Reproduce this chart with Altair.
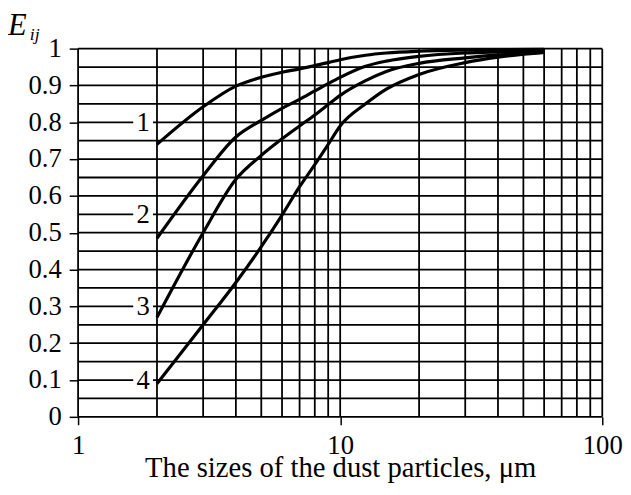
import altair as alt
import pandas as pd

# ---- data ----
sizes = [2, 3, 4, 5, 6, 7, 8, 9, 10, 12.5, 15, 20, 30, 40, 60]
curve1 = [0.74, 0.842, 0.898, 0.922, 0.936, 0.945, 0.954, 0.962, 0.970, 0.982, 0.988, 0.993, 0.996, 0.997, 0.998]
curve2 = [0.485, 0.655, 0.76, 0.805, 0.838, 0.862, 0.885, 0.905, 0.922, 0.952, 0.966, 0.979, 0.988, 0.991, 0.994]
curve3 = [0.27, 0.50, 0.645, 0.71, 0.755, 0.79, 0.82, 0.848, 0.873, 0.913, 0.938, 0.96, 0.975, 0.983, 0.99]
curve4 = [0.09, 0.25, 0.365, 0.462, 0.548, 0.625, 0.685, 0.74, 0.79, 0.85, 0.89, 0.93, 0.962, 0.977, 0.99]

curve_names = ["1", "2", "3", "4"]
label_x = [1.77, 1.77, 1.77, 1.77]
label_y = [0.8, 0.55, 0.3, 0.1]

x_grid = [1, 2, 3, 4, 5, 6, 7, 8, 9, 10, 20, 30, 40, 50, 60, 70, 80, 90, 100]
y_grid = [0, 0.05, 0.1, 0.15, 0.2, 0.25, 0.3, 0.35, 0.4, 0.45, 0.5,
          0.55, 0.6, 0.65, 0.7, 0.75, 0.8, 0.85, 0.9, 0.95, 1.0]
x_ticks = [1, 10, 100]
y_ticks = [0, 0.1, 0.2, 0.3, 0.4, 0.5, 0.6, 0.7, 0.8, 0.9, 1]

x_title = "The sizes of the dust particles, \u03bcm"

FONT = "Liberation Serif"

rows = []
for name, vals in zip(curve_names, [curve1, curve2, curve3, curve4]):
    for s, v in zip(sizes, vals):
        rows.append({"size": s, "E": v, "curve": name})
curves_df = pd.DataFrame(rows)
labels_df = pd.DataFrame({"size": label_x, "E": label_y, "name": curve_names})
xg_df = pd.DataFrame({"size": x_grid})
yg_df = pd.DataFrame({"E": y_grid})

xscale = alt.Scale(type="log", domain=[1, 100], nice=False)
yscale = alt.Scale(domain=[0, 1], nice=False)

x_axis = alt.Axis(values=x_ticks, title=x_title, grid=False, domain=False,
                  tickSize=8, tickWidth=1.5, tickColor="black",
                  labelPadding=8, labelFlush=False, labelOverlap=False,
                  titleFont=FONT, titleFontSize=29, titleFontWeight="normal",
                  titleColor="black", titleBaseline="alphabetic", titleY=60,
                  format="d")
y_axis = alt.Axis(values=y_ticks, title=None, grid=False, domain=False,
                  tickSize=9, tickWidth=1.5, tickColor="black",
                  labelPadding=8, labelOverlap=False,
                  labelExpr="datum.value == 0 ? '0' : datum.value == 1 ? '1' : format(datum.value, '.1f')")

X = alt.X("size:Q", scale=xscale, axis=x_axis)
Y = alt.Y("E:Q", scale=yscale, axis=y_axis)

vgrid = alt.Chart(xg_df).mark_rule(color="black", strokeWidth=1.8).encode(x=X)
hgrid = alt.Chart(yg_df).mark_rule(color="black", strokeWidth=1.8).encode(y=Y)

lines = alt.Chart(curves_df).mark_line(color="black", strokeWidth=3.2, interpolate="monotone").encode(
    x=X, y=Y, detail="curve:N",
)

label_bg = alt.Chart(labels_df).mark_square(color="white", opacity=1, size=400, filled=True).encode(
    x=X, y=Y,
)
label_txt = alt.Chart(labels_df).mark_text(font=FONT, fontSize=27, color="black",
                                            baseline="middle", align="center", dy=1).encode(
    x=X, y=Y, text="name:N",
)

e_txt = alt.Chart(pd.DataFrame({"t": ["E"]})).mark_text(
    font=FONT, fontSize=31, fontStyle="italic", color="black", align="left", baseline="alphabetic"
).encode(x=alt.value(-71), y=alt.value(-14), text="t:N")
ij_txt = alt.Chart(pd.DataFrame({"t": ["ij"]})).mark_text(
    font=FONT, fontSize=18, fontStyle="italic", color="black", align="left", baseline="alphabetic"
).encode(x=alt.value(-49), y=alt.value(-9), text="t:N")

chart = alt.layer(vgrid, hgrid, lines, label_bg, label_txt, e_txt, ij_txt).properties(
    width=531, height=373,
    autosize=alt.AutoSizeParams(type="none"),
    padding={"left": 71, "top": 38, "right": 21, "bottom": 74},
).configure_view(stroke=None).configure_axis(
    labelFont=FONT, labelFontSize=27, labelColor="black",
)

chart.save("out.html", embed_options={"renderer": "svg", "actions": False})
